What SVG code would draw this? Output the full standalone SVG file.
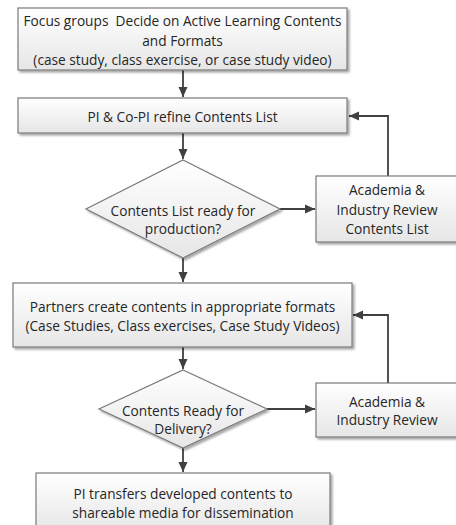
<svg xmlns="http://www.w3.org/2000/svg" width="456" height="525" viewBox="0 0 456 525">
<style>
.box{fill:url(#g);stroke:#7a7a7a;stroke-width:1.2;filter:url(#sh)}
.t{font-family:"Open Sans","Liberation Sans",Arial,sans-serif;font-size:13.7px;fill:#262626;text-anchor:middle;dominant-baseline:central}
.c{fill:none;stroke:#404040;stroke-width:1.8}
</style>
<defs>
<linearGradient id="g" x1="0" y1="0" x2="0" y2="1">
<stop offset="0" stop-color="#ffffff"/>
<stop offset="1" stop-color="#e6e6e6"/>
</linearGradient>
<filter id="sh" x="-10%" y="-10%" width="130%" height="140%">
<feDropShadow dx="2" dy="2" stdDeviation="1" flood-color="#000" flood-opacity="0.35"/>
</filter>
<marker id="ah" markerUnits="userSpaceOnUse" markerWidth="12" markerHeight="12" viewBox="0 0 12 12" refX="11" refY="6" orient="auto">
<path d="M1,1.5 L11,6 L1,10.5 Z" fill="#404040"/>
</marker>
</defs>
<rect width="456" height="525" fill="#fff"/>
<g id="connectors">
<path class="c" d="M183,70 V97" marker-end="url(#ah)"/>
<path class="c" d="M183,133 V159" marker-end="url(#ah)"/>
<path class="c" d="M183,258 V282" marker-end="url(#ah)"/>
<path class="c" d="M183,347 V369" marker-end="url(#ah)"/>
<path class="c" d="M183,448 V472" marker-end="url(#ah)"/>
<path class="c" d="M280,209 H315" marker-end="url(#ah)"/>
<path class="c" d="M267,409 H315" marker-end="url(#ah)"/>
<path class="c" d="M388,176 V116 H349" marker-end="url(#ah)"/>
<path class="c" d="M388,383 V315 H353" marker-end="url(#ah)"/>
</g>
<g id="focus">
<rect class="box" x="18" y="8" width="329" height="62"/>
<text class="t" x="182.5" y="20.5" xml:space="preserve">Focus groups  Decide on Active Learning Contents</text>
<text class="t" x="182.5" y="40">and Formats</text>
<text class="t" x="182.5" y="59.5">(case study, class exercise, or case study video)</text>
</g>
<g id="refine">
<rect class="box" x="18" y="98" width="329" height="35"/>
<text class="t" x="182.5" y="116">PI &amp; Co-PI refine Contents List</text>
</g>
<g id="decision1">
<polygon class="box" points="183,160 280,209 183,258 86,209"/>
<text class="t" x="183" y="210">Contents List ready for</text>
<text class="t" x="183" y="228">production?</text>
</g>
<g id="review1">
<rect class="box" x="316" y="176" width="142" height="66"/>
<text class="t" x="387" y="189.5">Academia &amp;</text>
<text class="t" x="387" y="209">Industry Review</text>
<text class="t" x="387" y="228.5">Contents List</text>
</g>
<g id="partners">
<rect class="box" x="13" y="283" width="339" height="64"/>
<text class="t" x="182.5" y="306">Partners create contents in appropriate formats</text>
<text class="t" x="182.5" y="325.5">(Case Studies, Class exercises, Case Study Videos)</text>
</g>
<g id="decision2">
<polygon class="box" points="183,370 267,409 183,448 99,409"/>
<text class="t" x="183" y="410">Contents Ready for</text>
<text class="t" x="183" y="428">Delivery?</text>
</g>
<g id="review2">
<rect class="box" x="316" y="383" width="142" height="54"/>
<text class="t" x="387" y="401">Academia &amp;</text>
<text class="t" x="387" y="419">Industry Review</text>
</g>
<g id="transfer">
<rect class="box" x="36" y="473" width="294" height="60"/>
<text class="t" x="183" y="493">PI transfers developed contents to</text>
<text class="t" x="183" y="512">shareable media for dissemination</text>
</g>
</svg>
